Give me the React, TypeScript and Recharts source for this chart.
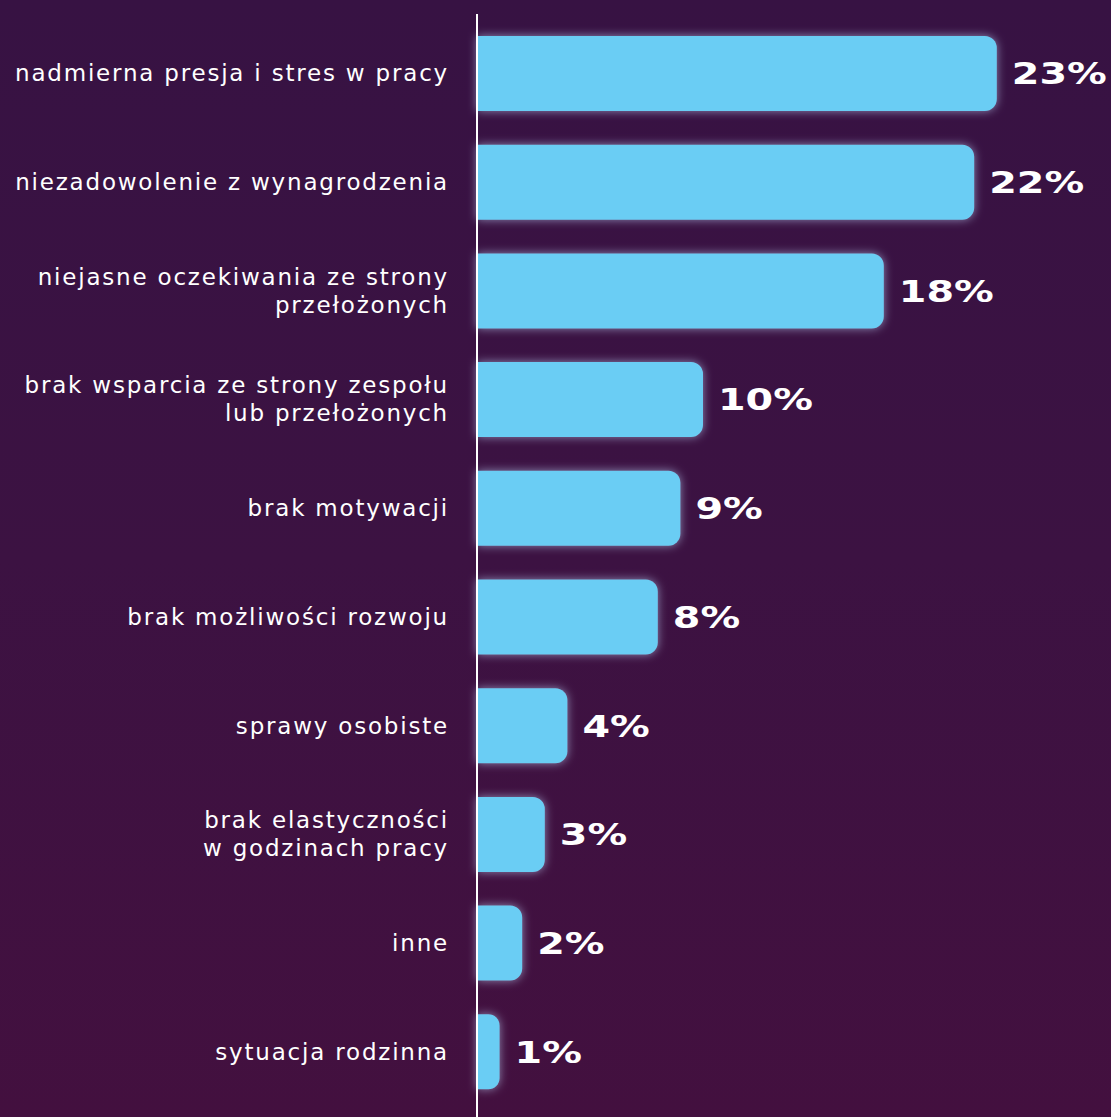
import { BarChart, Bar, XAxis, YAxis, LabelList } from 'recharts'

const categories = [
  'nadmierna presja i stres w pracy',
  'niezadowolenie z wynagrodzenia',
  'niejasne oczekiwania ze strony\nprzełożonych',
  'brak wsparcia ze strony zespołu\nlub przełożonych',
  'brak motywacji',
  'brak możliwości rozwoju',
  'sprawy osobiste',
  'brak elastyczności\nw godzinach pracy',
  'inne',
  'sytuacja rodzinna',
]
const values = [23, 22, 18, 10, 9, 8, 4, 3, 2, 1]

const data = categories.map((name, i) => ({ name, value: values[i] }))

function CategoryTick({ x, y, payload }: any) {
  const lines = String(payload.value).split('\n')
  const start = -((lines.length - 1) * 28) / 2
  return (
    <text x={x} y={y} textAnchor='end' fill='#ffffff' fontSize={23}
      fontFamily='"DejaVu Sans", sans-serif' letterSpacing={1.8}>
      {lines.map((line, i) => (
        <tspan key={i} x={x} y={y + start + i * 28} dominantBaseline='central'>{line}</tspan>
      ))}
    </text>
  )
}

// value label, widened to mimic the square display font
function ValueLabel({ x, y, width, height, value }: any) {
  const tx = x + width + 15
  const ty = y + height / 2
  return (
    <text transform={`translate(${tx},${ty}) scale(1.28,1)`} fill='#ffffff' fontSize={31}
      fontWeight={700} fontFamily='"DejaVu Sans", sans-serif' dominantBaseline='central'>
      {`${value}%`}
    </text>
  )
}

export default function App() {
  return (
    <div style={{
      position: 'absolute', left: 0, top: 0, width: 1111, height: 1117,
      background: 'linear-gradient(180deg, #371243 0%, #3c1242 50%, #43103f 100%)',
    }}>
      <BarChart width={1111} height={1117} data={data} layout='vertical'
        margin={{ top: 14, right: 69, bottom: 0, left: 0 }}>
        <defs>
          <filter id='glow' filterUnits='userSpaceOnUse' x={0} y={0} width={1111} height={1117}>
            <feGaussianBlur in='SourceAlpha' stdDeviation='5' result='blur' />
            <feFlood floodColor='#c4dcff' floodOpacity='0.6' />
            <feComposite in2='blur' operator='in' result='halo' />
            <feMerge>
              <feMergeNode in='halo' />
              <feMergeNode in='SourceGraphic' />
            </feMerge>
          </filter>
        </defs>
        <XAxis type='number' domain={[0, 25]} hide />
        <YAxis type='category' dataKey='name' width={477} tickLine={false} tickSize={0}
          tickMargin={28} axisLine={{ stroke: '#ffffff', strokeWidth: 2 }}
          padding={{ top: 5, bottom: 11 }} tick={<CategoryTick />} interval={0} />
        <Bar dataKey='value' fill='#6bcdf4' barSize={75} radius={[0, 12, 12, 0]}
          filter='url(#glow)' isAnimationActive={false}>
          <LabelList dataKey='value' content={<ValueLabel />} />
        </Bar>
      </BarChart>
    </div>
  )
}
